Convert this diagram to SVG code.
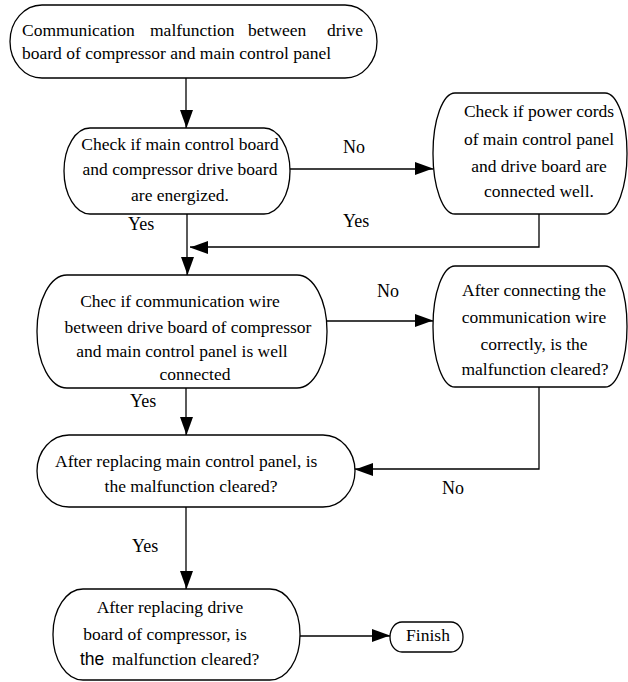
<svg xmlns="http://www.w3.org/2000/svg" width="628" height="682" viewBox="0 0 628 682">
<style>
.box{fill:#fff;stroke:#000;stroke-width:1.3}
text{font-family:'Liberation Serif','DejaVu Serif',serif;font-size:17.5px;fill:#000}
.c{text-anchor:middle}
.lbl{font-size:18px}
.ln{fill:none;stroke:#000;stroke-width:1.3}
</style>
<defs>
<marker id="ah" markerUnits="userSpaceOnUse" markerWidth="18" markerHeight="14" refX="18" refY="7" orient="auto">
<path d="M0,0 L18,6.5 L0,13 Z" fill="#000"/>
</marker>
</defs>
<g id="connectors">
<path class="ln" d="M186 78 V128" marker-end="url(#ah)"/>
<path class="ln" d="M290 169 H433" marker-end="url(#ah)"/>
<path class="ln" d="M539 214 V247 H190" marker-end="url(#ah)"/>
<path class="ln" d="M187 214 V275" marker-end="url(#ah)"/>
<path class="ln" d="M327 321 H433" marker-end="url(#ah)"/>
<path class="ln" d="M539 387 V469 H355" marker-end="url(#ah)"/>
<path class="ln" d="M186 388 V435" marker-end="url(#ah)"/>
<path class="ln" d="M186 507 V589" marker-end="url(#ah)"/>
<path class="ln" d="M300 636 H390" marker-end="url(#ah)"/>
<text class="lbl" x="343" y="153">No</text>
<text class="lbl" x="128" y="230">Yes</text>
<text class="lbl" x="343" y="227">Yes</text>
<text class="lbl" x="377" y="297">No</text>
<text class="lbl" x="130" y="407">Yes</text>
<text class="lbl" x="442" y="494">No</text>
<text class="lbl" x="132" y="552">Yes</text>
</g>
<g id="start">
<rect class="box" x="10" y="5" width="367" height="73" rx="32" ry="36.5"/>
<text y="36"><tspan x="22">Communication</tspan><tspan x="150">malfunction</tspan><tspan x="248">between</tspan><tspan x="363" text-anchor="end">drive</tspan></text>
<text x="22" y="59">board of compressor and main control panel</text>
</g>
<g id="check-energized">
<rect class="box" x="64" y="128" width="226" height="86" rx="26" ry="43"/>
<text class="c" x="180" y="150">Check if main control board</text>
<text class="c" x="180" y="175">and compressor drive board</text>
<text class="c" x="180" y="201">are energized.</text>
</g>
<g id="check-power-cords">
<rect class="box" x="433" y="93" width="194" height="121" rx="22" ry="60"/>
<text class="c" x="539" y="117">Check if power cords</text>
<text class="c" x="539" y="145">of main control panel</text>
<text class="c" x="539" y="172">and drive board are</text>
<text class="c" x="539" y="197">connected well.</text>
</g>
<g id="check-comm-wire">
<rect class="box" x="37" y="275" width="290" height="113" rx="30" ry="56"/>
<text class="c" x="180" y="307">Chec if communication wire</text>
<text class="c" x="188" y="333">between drive board of compressor</text>
<text class="c" x="182" y="357">and main control panel is well</text>
<text class="c" x="195" y="380">connected</text>
</g>
<g id="reconnect-wire">
<rect class="box" x="433" y="266" width="194" height="121" rx="22" ry="60"/>
<text class="c" x="534" y="296">After connecting the</text>
<text class="c" x="534" y="323">communication wire</text>
<text class="c" x="534" y="350">correctly, is the</text>
<text class="c" x="535" y="375">malfunction cleared?</text>
</g>
<g id="replace-main-panel">
<rect class="box" x="37" y="435" width="318" height="72" rx="32" ry="36"/>
<text x="55" y="467">After replacing main control panel, is</text>
<text class="c" x="191" y="492">the malfunction cleared?</text>
</g>
<g id="replace-drive-board">
<rect class="box" x="53" y="589" width="247" height="91" rx="30" ry="45"/>
<text class="c" x="170" y="613">After replacing drive</text>
<text class="c" x="165" y="640">board of compressor, is</text>
<text y="665"><tspan x="80" style="font-family:'Liberation Sans',Arial,sans-serif">the</tspan><tspan x="112">malfunction cleared?</tspan></text>
</g>
<g id="finish">
<rect class="box" x="390" y="622" width="73" height="30" rx="12" ry="15"/>
<text class="c" x="428" y="641">Finish</text>
</g>
</svg>
